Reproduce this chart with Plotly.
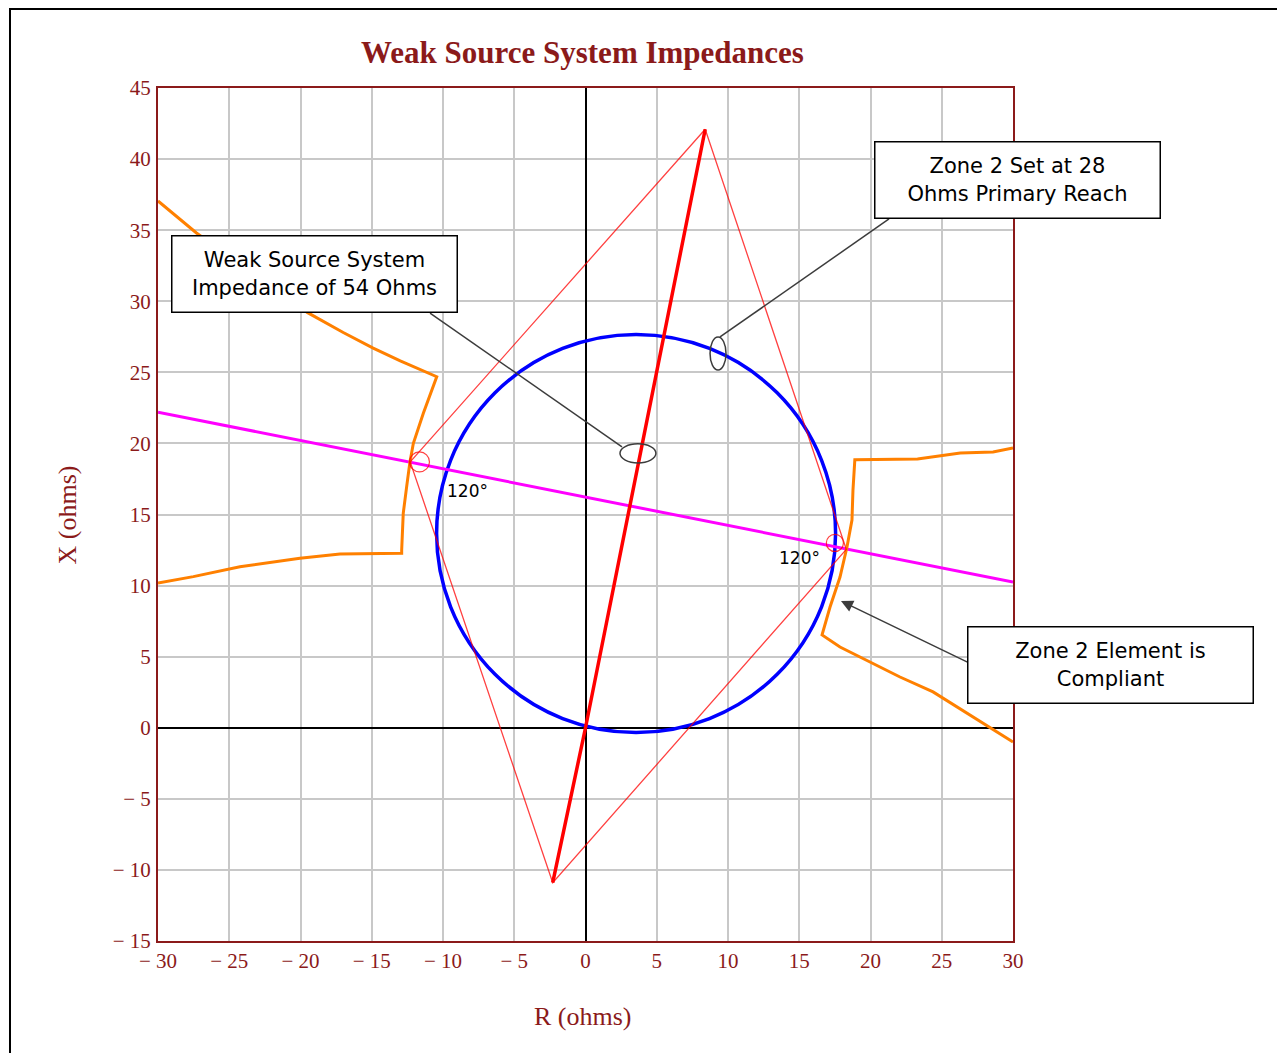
"""Weak source system impedance plot (R-X diagram)"""

import plotly.graph_objects as go

# axis ticks
r_ticks = list(range(-30, 31, 5))
x_ticks = list(range(-15, 46, 5))
r_tick_text = [f"\u2212 {abs(v)}" if v < 0 else str(v) for v in r_ticks]
x_tick_text = [f"\u2212 {abs(v)}" if v < 0 else str(v) for v in x_ticks]

# zone 2 reach line (thick red)
reach_r = [-2.3, 0.0, 8.4]
reach_x = [-10.9, 0.0, 42.1]

# 120 degree quadrilateral (thin red)
quad_r = [8.4, 18.3, -2.3, -12.3, 8.4]
quad_x = [42.1, 12.55, -10.9, 18.7, 42.1]

# mho circle: centre and radius (blue)
mho_center = (3.55, 13.66)
mho_radius = 14.0

# weak source system impedance line (magenta)
source_r = [-30, 0, 30]
source_x = [22.2, 16.2, 10.25]

# load encroachment characteristic (orange), two branches
load_left_r = [-30.0, -27.3, -19.5, -17.0, -14.9, -13.0, -10.44,
               -11.38, -12.08, -12.32, -12.55, -12.79, -12.9, -12.9,
               -17.23, -20.04, -24.25, -27.52, -30.0]
load_left_x = [37.05, 34.8, 29.2, 27.8, 26.7, 25.8, 24.69,
               22.12, 20.01, 18.7, 16.96, 15.08, 12.5, 12.27,
               12.22, 11.92, 11.33, 10.63, 10.18]
load_right_r = [30.0, 28.6, 26.3, 23.3, 18.9, 18.77, 18.7, 18.35,
                17.86, 17.16, 16.6, 17.86, 22.07, 24.39, 30.0]
load_right_x = [19.68, 19.4, 19.33, 18.9, 18.85, 16.72, 14.61, 12.71,
                10.6, 8.49, 6.53, 5.68, 3.57, 2.52, -1.0]

# angle markers
angle_marks = [(-11.65, 18.7, 0.7), (17.5, 13.0, 0.6)]
angle_labels = [(-8.3, 16.65, "120°"), (15.05, 11.94, "120°")]

MAROON = "#8B1A1A"

fig = go.Figure()

fig.add_trace(go.Scatter(x=source_r, y=source_x, mode="lines",
                         line=dict(color="#FF00FF", width=3), showlegend=False))
fig.add_trace(go.Scatter(x=load_left_r, y=load_left_x, mode="lines",
                         line=dict(color="#FF8000", width=3), showlegend=False))
fig.add_trace(go.Scatter(x=load_right_r, y=load_right_x, mode="lines",
                         line=dict(color="#FF8000", width=3), showlegend=False))
fig.add_trace(go.Scatter(x=quad_r, y=quad_x, mode="lines",
                         line=dict(color="rgba(255,0,0,0.75)", width=1.3),
                         showlegend=False))
fig.add_trace(go.Scatter(x=reach_r, y=reach_x, mode="lines",
                         line=dict(color="#FF0000", width=3.5), showlegend=False))

# mho circle
cx, cy = mho_center
fig.add_shape(type="circle", xref="x", yref="y",
              x0=cx - mho_radius, x1=cx + mho_radius,
              y0=cy - mho_radius, y1=cy + mho_radius,
              line=dict(color="#0000FF", width=3.5), layer="between")

for r0, x0, rad in angle_marks:
    fig.add_shape(type="circle", xref="x", yref="y",
                  x0=r0 - rad, x1=r0 + rad, y0=x0 - rad, y1=x0 + rad,
                  line=dict(color="rgba(255,0,0,0.75)", width=1.2))

for r0, x0, txt in angle_labels:
    fig.add_annotation(x=r0, y=x0, text=txt, showarrow=False,
                       font=dict(family="DejaVu Sans", size=17, color="black"))

# callout ellipses and leader lines
GREY = "#3C3C3C"
fig.add_shape(type="circle", xref="x", yref="y", x0=2.42, x1=4.94,
              y0=18.63, y1=19.97, line=dict(color=GREY, width=1.5))
fig.add_shape(type="circle", xref="x", yref="y", x0=8.74, x1=9.86,
              y0=25.17, y1=27.49, line=dict(color=GREY, width=1.5))
fig.add_shape(type="line", xref="x", yref="y", x0=-10.91, y0=29.17,
              x1=2.56, y1=19.75, line=dict(color=GREY, width=1.5))
fig.add_shape(type="line", xref="x", yref="y", x0=21.3, y0=35.79,
              x1=9.44, y1=27.49, line=dict(color=GREY, width=1.5))
fig.add_annotation(x=17.93, y=8.92, ax=26.91, ay=4.56, axref="x", ayref="y",
                   text="", showarrow=True, arrowhead=2, arrowsize=1.6,
                   arrowwidth=1.5, arrowcolor=GREY)

box_font = dict(family="DejaVu Sans", size=21, color="black")
callouts = [
    (0.1825, 0.7825, "Weak Source System<br>Impedance of 54 Ohms"),
    (1.0053, 0.8916, "Zone 2 Set at 28<br>Ohms Primary Reach"),
    (1.1146, 0.3230, "Zone 2 Element is<br>Compliant"),
]
for px, py, txt in callouts:
    fig.add_annotation(xref="paper", yref="paper", x=px, y=py, text=txt,
                       showarrow=False, xanchor="center", yanchor="middle",
                       width=284, height=75, borderpad=0,
                       bordercolor="black", borderwidth=1.5, bgcolor="white",
                       font=box_font)

# title and axis titles
fig.add_annotation(xref="paper", yref="paper", x=0.497, y=1.0422,
                   xanchor="center", yanchor="middle",
                   text="<b>Weak Source System Impedances</b>", showarrow=False,
                   font=dict(family="Liberation Serif", size=31, color=MAROON))
fig.add_annotation(xref="paper", yref="paper", x=0.497, y=-0.089,
                   xanchor="center", yanchor="middle",
                   text="R (ohms)", showarrow=False,
                   font=dict(family="Liberation Serif", size=26, color=MAROON))
fig.add_annotation(xref="paper", yref="paper", x=-0.1053, y=0.5,
                   xanchor="center", yanchor="middle",
                   text="X (ohms)", showarrow=False, textangle=-90,
                   font=dict(family="Liberation Serif", size=26, color=MAROON))

# outer frame (top and left edges visible)
fig.add_shape(type="rect", xref="paper", yref="paper",
              x0=-0.1731, x1=1.4, y0=-0.2, y1=1.0926,
              line=dict(color="black", width=2))

fig.update_layout(
    width=1285,
    height=1053,
    margin=dict(l=150, r=280, t=80, b=120),
    plot_bgcolor="white",
    paper_bgcolor="white",
    showlegend=False,
)

axis_common = dict(
    showline=True, mirror=True, linecolor=MAROON, linewidth=2,
    showgrid=True, gridcolor="#C8C8C8", gridwidth=1.5,
    zeroline=True, zerolinecolor="black", zerolinewidth=2,
    tickfont=dict(family="Liberation Serif", size=21, color=MAROON),
    ticks="outside", tickcolor="rgba(0,0,0,0)",
)
fig.update_xaxes(range=[-30, 30], tickmode="array", tickvals=r_ticks,
                 ticktext=r_tick_text, ticklen=0, **axis_common)
fig.update_yaxes(range=[-15, 45], tickmode="array", tickvals=x_ticks,
                 ticktext=x_tick_text, ticklen=1, **axis_common)

fig.write_html("out.html")
